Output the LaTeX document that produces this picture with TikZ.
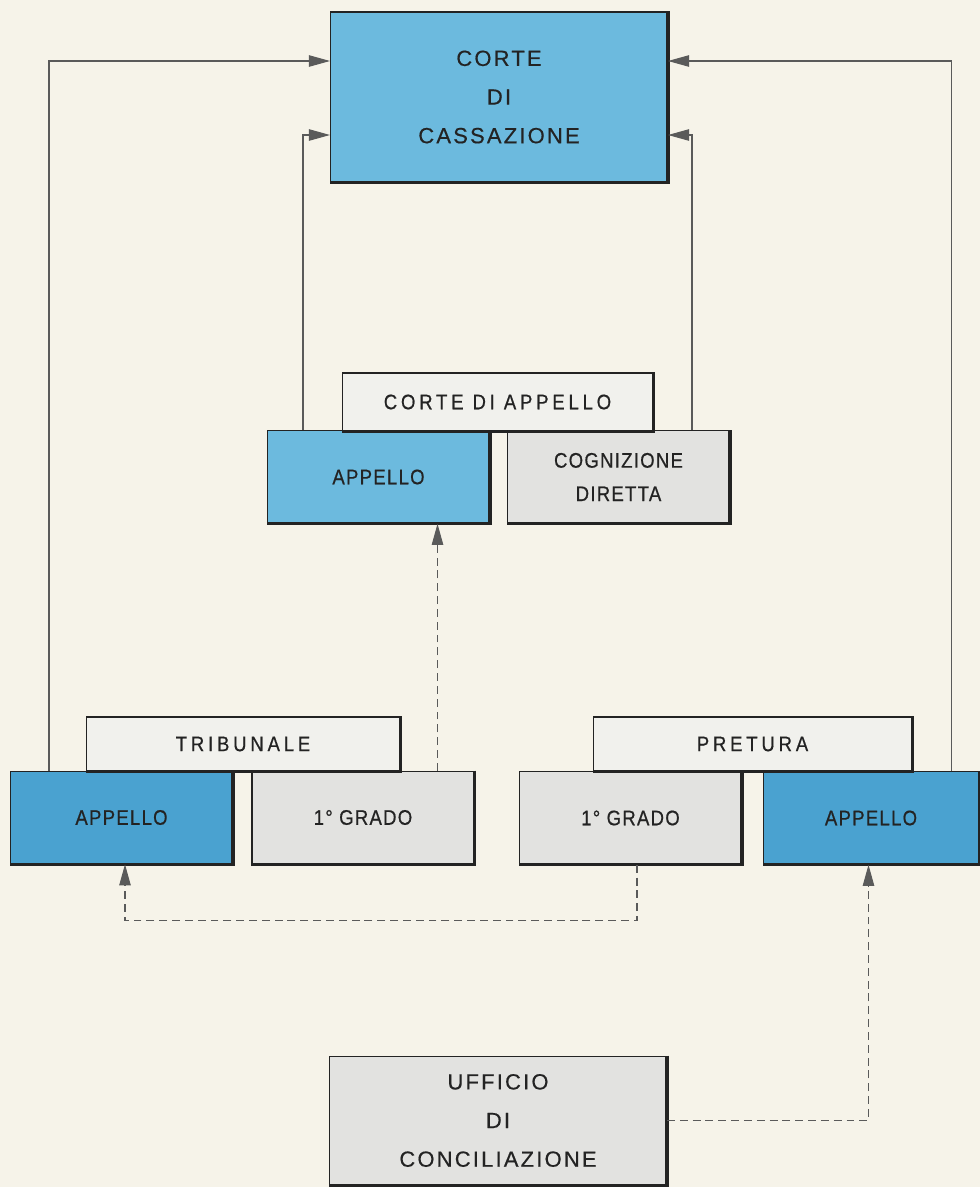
\documentclass[tikz,border=0pt]{standalone}
\usepackage{fontspec}
\setmainfont{Liberation Sans}
\newfontfamily\bigfont[LetterSpace=10,FakeBold=0.5]{Liberation Sans}
\newfontfamily\smallfont[LetterSpace=6,FakeStretch=0.88,FakeBold=0.6]{Liberation Sans}
\newfontfamily\titlefont[LetterSpace=18,FakeStretch=0.88,FakeBold=0.6]{Liberation Sans}
\usetikzlibrary{arrows.meta,calc}

\definecolor{paper}{RGB}{246,243,233}
\definecolor{cyanA}{RGB}{108,186,222}
\definecolor{cyanB}{RGB}{74,162,208}
\definecolor{greybox}{RGB}{226,226,224}
\definecolor{whitebox}{RGB}{241,241,237}
\definecolor{ink}{RGB}{35,35,35}

\tikzset{
  box/.style={draw=ink,line width=0.6pt,inner sep=0pt,align=center,text=ink},
  big/.style={box,minimum width=6.74cm,font=\bigfont\fontsize{12.5}{22}\selectfont},
  part/.style={box,minimum width=4.44cm,minimum height=1.85cm,font=\smallfont\fontsize{12}{19}\selectfont},
  court/.style={box,fill=whitebox,minimum height=1.12cm,font=\titlefont\fontsize{12}{13}\selectfont},
  link/.style={draw=ink!75,line width=0.6pt,-{Triangle[length=12pt,width=6.5pt]}},
  dlink/.style={link,dash pattern=on 4.5pt off 2.8pt}
}

\begin{document}
\begin{tikzpicture}[x=0.02cm,y=-0.02cm]
\fill[paper] (0,0) rectangle (980,1187);
\useasboundingbox (0,0) rectangle (980,1187);

% top
\node[big,fill=cyanA,minimum height=3.40cm] (cass) at (499,97) {CORTE\\DI\\CASSAZIONE};

% corte di appello
\node[court,minimum width=6.22cm,minimum height=1.16cm] (capp) at (497.5,402) {CORTE DI APPELLO};
\node[part,fill=cyanA] (cappA) at (378.5,477) {APPELLO};
\node[part,fill=greybox] (cappC) at (618.5,477) {COGNIZIONE\\DIRETTA};

% tribunale
\node[court,minimum width=6.28cm,minimum height=1.08cm] (trib) at (243,744) {TRIBUNALE};
\node[part,fill=cyanB] (tribA) at (121.5,817.5) {APPELLO};
\node[part,fill=greybox] (tribG) at (363,817.5) {1° GRADO};

% pretura
\node[court,minimum width=6.38cm,minimum height=1.08cm] (pret) at (752.5,744) {PRETURA};
\node[part,fill=greybox] (pretG) at (630.5,818) {1° GRADO};
\node[part,fill=cyanB,minimum width=4.32cm] (pretA) at (871,818) {APPELLO};

% bottom
\node[big,fill=greybox,minimum height=2.58cm] (uff) at (498,1120.5) {UFFICIO\\DI\\CONCILIAZIONE};

\foreach \n in {cass,capp,cappA,cappC,trib,tribA,tribG,pret,pretG,pretA,uff}
  \draw[ink,line width=1.8pt] (\n.north east) -- (\n.south east) -- (\n.south west);

% ricorsi
\draw[link] ($(tribA.north west)+(39,0)$) |- ($(cass.west)+(0,-36)$);
\draw[link] ($(cappA.north west)+(36,0)$) |- ($(cass.west)+(0,38)$);
\draw[link] ($(cappC.north east)+(-38,0)$) |- ($(cass.east)+(0,38)$);
\draw[link] ($(pretA.north east)+(-28,0)$) |- ($(cass.east)+(0,-36)$);

% appelli
\draw[dlink] ($(tribG.north east)+(-37,0)$) coordinate (up) -- (up |- cappA.south);
\draw[dlink] ($(pretG.south west)+(118,0)$) -- ++(0,56) -| ($(tribA.south west)+(115,0)$);
\draw[dlink] (uff.east) -| ($(pretA.south west)+(106,0)$);
\end{tikzpicture}
\end{document}
